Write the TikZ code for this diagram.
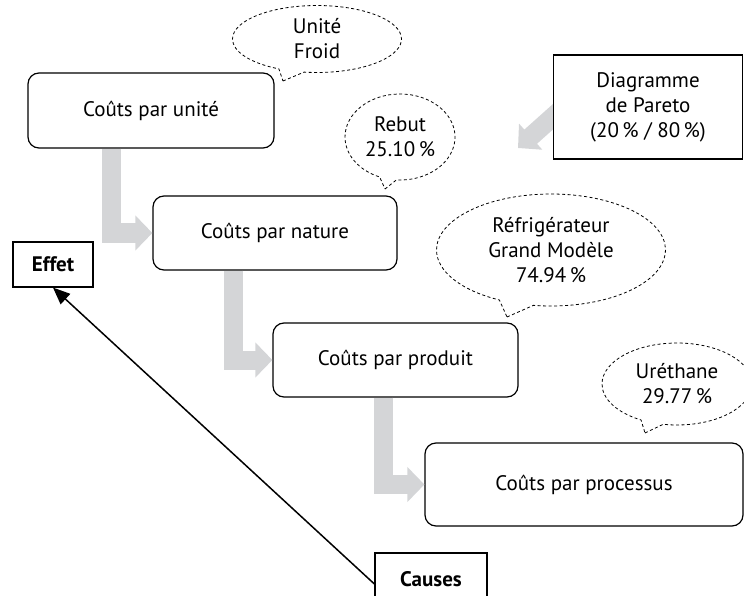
\documentclass[tikz,border=0pt]{standalone}
\usepackage{fontspec}
\setmainfont{PT Sans}
\usetikzlibrary{shapes.callouts,arrows.meta}
\definecolor{arrowgrey}{RGB}{212,213,215}
\begin{document}
\begin{tikzpicture}[x=1pt,y=-1pt,
  font=\fontsize{21}{25}\selectfont,
  box/.style={draw, line width=1.2pt, rounded corners=11pt, fill=white, align=center, inner sep=0pt},
  sqbox/.style={draw, line width=1.2pt, fill=white, align=center, inner sep=0pt},
  bubble/.style={ellipse callout, draw, dashed, dash pattern=on 3pt off 2.5pt, line width=0.8pt, align=center, inner sep=0pt, callout pointer arc=18},
  greyarrow/.style={draw=arrowgrey, line width=19pt, -{Triangle[width=34pt,length=17pt]}, arrowgrey},
  blackarrow/.style={draw, line width=1.5pt, -{Triangle[width=14pt,length=17pt]}}
]
\clip (0,0) rectangle (744,596);
% grey arrow from Pareto (drawn first, under the box)
\coordinate (pstart) at (565,106);
\coordinate (ptip) at (518,148);
\draw[greyarrow] (pstart) -- (ptip);

% boxes
\node[box, minimum width=246pt, minimum height=75pt] (unit) at (151,110.5) {Coûts par unité};
\node[box, minimum width=244pt, minimum height=74pt] (nature) at (275,233) {Coûts par nature};
\node[box, minimum width=245pt, minimum height=74pt] (produit) at (395.5,360) {Coûts par produit};
\node[box, minimum width=318pt, minimum height=83pt] (processus) at (584,484.5) {Coûts par processus};
\node[sqbox, minimum width=189pt, minimum height=104pt] (pareto) at (648,107) {Diagramme\\de Pareto\\(20\,\% / 80\,\%)};
\node[sqbox, minimum width=80pt, minimum height=45pt, font=\fontsize{21}{25}\selectfont\bfseries] (effet) at (53,264.5) {Effet};
\node[sqbox, minimum width=112pt, minimum height=56pt, font=\fontsize{21}{25}\selectfont\bfseries] (causes) at (431,581) {\raisebox{4pt}{Causes}};

% grey step arrows
\draw[greyarrow] ([xshift=-40pt]unit.south) |- (nature.west);
\draw[greyarrow] ([xshift=-41.5pt]nature.south) |- (produit.west);
\draw[greyarrow] ([xshift=-12pt]produit.south) |- (processus.west);

% black arrow
\draw[blackarrow] ([yshift=-3pt]causes.west) -- (effet.south);

% callouts
\node[bubble, minimum width=169pt, minimum height=67pt, callout absolute pointer={(283,81)}] (froid) at (317,39) {Unité\\Froid};
\node[bubble, minimum width=110pt, minimum height=86pt, callout absolute pointer={(385,189)}] (rebut) at (400,137) {Rebut\\25.10\,\%};
\node[bubble, minimum width=229pt, minimum height=112pt, callout absolute pointer={(507,317)}] (refrig) at (551,250) {Réfrigérateur\\Grand Modèle\\74.94\,\%};
\node[bubble, minimum width=150pt, minimum height=82pt, callout absolute pointer={(645,433)}] (urethane) at (677,384) {Uréthane\\29.77\,\%};
\end{tikzpicture}
\end{document}
